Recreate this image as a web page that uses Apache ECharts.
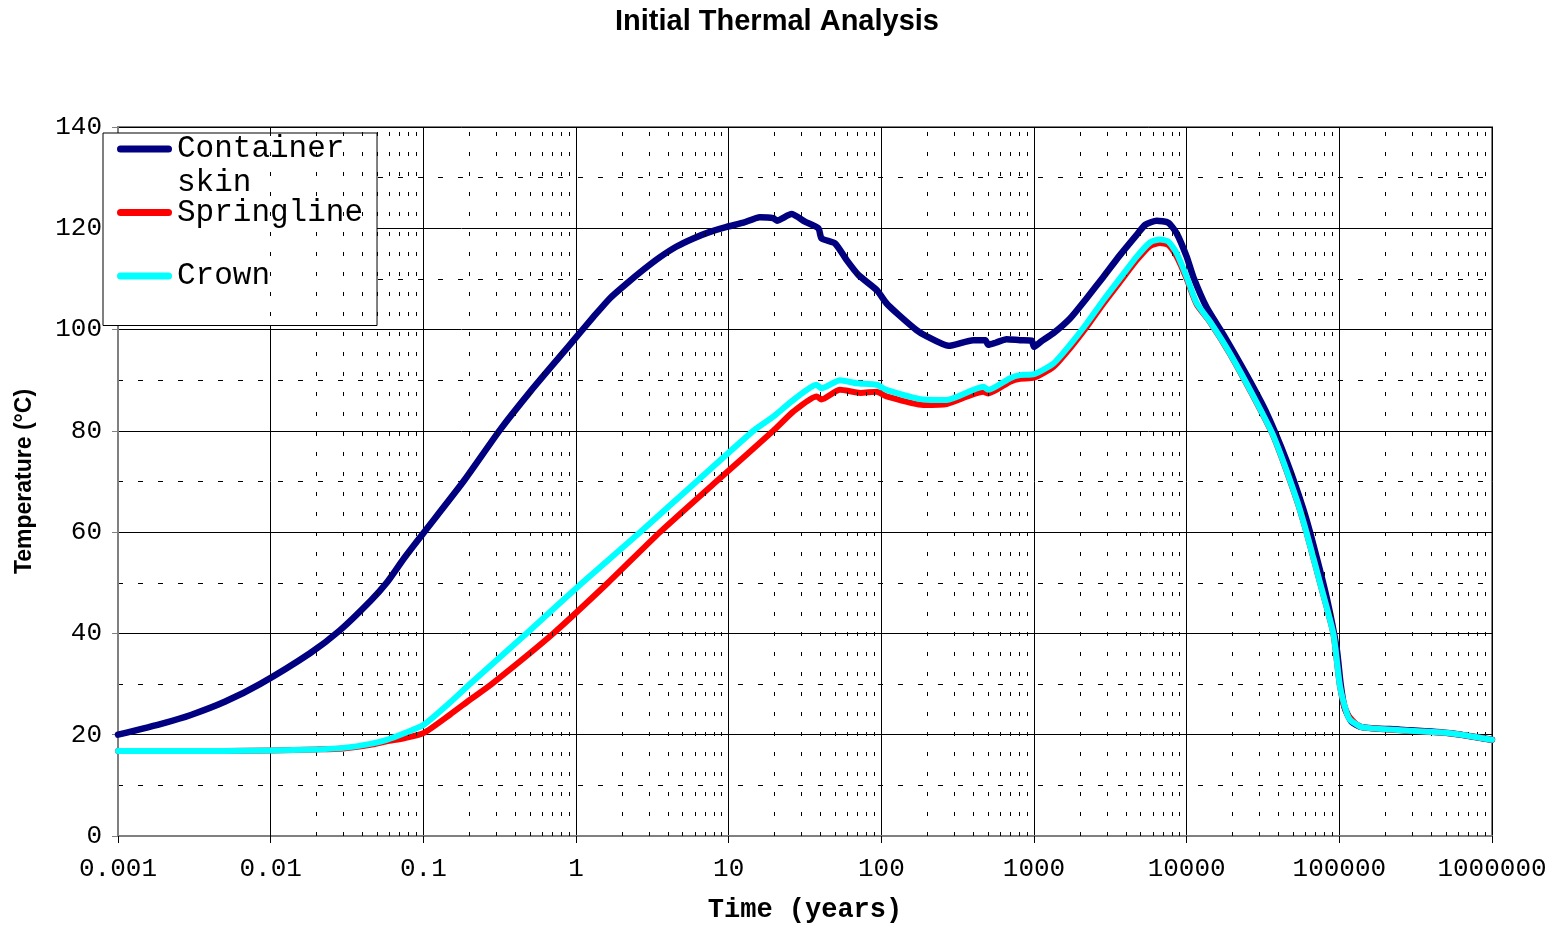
<!DOCTYPE html>
<html>
<head>
<meta charset="utf-8">
<script src="https://cdn.jsdelivr.net/npm/echarts@6/dist/echarts.min.js"></script>
<style>html,body{margin:0;padding:0;background:#fff;}#c{width:1554px;height:928px;}</style>
</head>
<body>
<div id="c"></div>
<script>
// ---- data (time in years, temperature in °C) ----
const titleText = 'Initial Thermal Analysis';
const xAxisName = 'Time (years)';
const yAxisName = 'Temperature (°C)';
const seriesNames = ['Container skin', 'Springline', 'Crown'];
const xTickLabels = ['0.001', '0.01', '0.1', '1', '10', '100', '1000', '10000', '100000', '1000000'];
const yTicks = [0, 20, 40, 60, 80, 100, 120, 140];

const containerSkin = [
  [0.001, 20.0], [0.002, 22.3], [0.003, 23.9], [0.005, 26.5], [0.0085, 30.0], [0.0181, 36.1],
  [0.0284, 40.6], [0.045, 46.4], [0.0575, 50.0], [0.075, 54.9], [0.1, 59.8], [0.183, 70.0],
  [0.318, 80.2], [0.5, 87.7], [0.785, 94.7], [1.01, 98.6], [1.3, 102.5], [1.67, 106.2],
  [2.15, 109.1], [2.76, 111.8], [3.55, 114.3], [4.56, 116.4], [5.87, 118.0], [7.55, 119.3],
  [9.7, 120.3], [12.5, 121.1], [16, 122.2], [19.6, 122.0],
  [20.7, 121.5], [25.8, 122.8], [31.6, 121.3], [38.7, 120.0], [40.6, 118.0], [49.8, 117.0],
  [59.3, 113.7], [70.7, 110.8], [93.3, 107.8], [108, 105.2], [130, 102.9], [170, 99.9],
  [200, 98.6], [275, 96.8], [400, 97.9], [480, 97.9], [502, 97.0], [560, 97.4], [662, 98.1],
  [809, 97.9], [966, 97.8], [1000, 96.6], [1107, 97.6], [1340, 99.3], [1722, 102.2],
  [2213, 106.2], [2845, 110.4], [3657, 114.7], [4706, 118.7], [5360, 120.7], [6360, 121.5],
  [7580, 121.1], [8600, 119.0], [10000, 114.4], [11050, 110.4],
  [13500, 104.4], [17400, 99.0], [24700, 91.0], [33400, 83.5], [45200, 74.0], [58100, 64.5],
  [67600, 57.5], [82700, 47.0], [96100, 37.0], [102000, 30.0], [108000, 25.5], [120000, 22.6],
  [140000, 21.5], [250000, 21.0], [530000, 20.3], [1000000, 19.0]
];

const springline = [
  [0.001, 16.8], [0.005, 16.8], [0.01, 16.9], [0.02, 17.1], [0.03, 17.3], [0.045, 18.0],
  [0.0575, 18.7], [0.075, 19.3], [0.1, 20.3], [0.15, 24.0], [0.202, 26.9], [0.28, 30.0],
  [0.71, 40.0], [1.62, 50.0], [3.55, 60.0], [8.3, 70.0], [19.6, 80.0], [26.5, 83.8],
  [37.7, 86.8], [40.5, 86.2], [53.6, 88.1], [73, 87.5], [93, 87.7], [108, 86.8], [188, 85.1],
  [268, 85.3], [466, 87.7], [502, 87.4], [697, 89.7], [809, 90.3], [1000, 90.5], [1340, 92.6],
  [1722, 96.3], [2213, 100.5], [2845, 105.1], [3657, 109.4], [4706, 113.7], [5754, 116.5],
  [6690, 117.1], [7580, 116.7], [8600, 114.4], [10000, 110.0], [11620, 105.0],
  [14200, 101.5], [19200, 95.2], [27400, 86.7], [37000, 78.9], [52600, 66.3],
  [61100, 59.8], [74700, 50.0], [91300, 40.0], [101000, 29.5], [112000, 24.2], [137000, 21.6],
  [250000, 20.9], [532000, 20.3], [1000000, 19.0]
];

const crown = [
  [0.001, 16.8], [0.005, 16.8], [0.01, 16.9], [0.02, 17.1], [0.03, 17.4], [0.045, 18.2],
  [0.0575, 19.0], [0.075, 20.3], [0.1, 21.9], [0.15, 26.4], [0.202, 30.0], [0.474, 40.0],
  [1.1, 50.0], [2.63, 60.0], [6.17, 70.0], [14.5, 80.0], [19.6, 82.8], [26.5, 86.1],
  [37.7, 89.1], [40.5, 88.4], [53.6, 90.0], [68.9, 89.4], [93.3, 89.1], [108, 88.1], [188, 86.2],
  [268, 86.1], [466, 88.7], [502, 88.1], [697, 90.4], [809, 91.0], [1000, 91.2], [1340, 93.3],
  [1722, 97.0], [2213, 101.2], [2845, 105.8], [3657, 110.1], [4706, 114.4], [5754, 117.2],
  [6690, 117.8], [7580, 117.4], [8600, 115.1], [10000, 110.4], [11620, 105.2],
  [14200, 101.6], [19200, 95.3], [27400, 86.8], [37000, 79.0], [52600, 66.4],
  [61100, 59.8], [74700, 50.0], [91300, 40.0], [101000, 29.5], [112000, 24.2], [118000, 22.9],
  [137000, 21.6], [159000, 21.3], [250000, 20.9], [532000, 20.3], [1000000, 19.0]
];

// minor vertical grid positions (2..9 x each decade)
const minorX = [];
for (let e = -3; e < 6; e++) for (let k = 2; k <= 9; k++) minorX.push(+(k * Math.pow(10, e)).toPrecision(3));

const mono = '"Liberation Mono", "DejaVu Sans Mono", monospace';
const sans = '"Liberation Sans", Arial, sans-serif';

const chart = echarts.init(document.getElementById('c'), null, {renderer: 'canvas'});
chart.setOption({
  animation: false,
  backgroundColor: '#fff',
  title: {
    text: titleText, left: 'center', top: 2,
    textStyle: {fontFamily: sans, fontWeight: 'bold', fontSize: 29, color: '#000'}
  },
  grid: {left: 118, right: 62, top: 127, bottom: 92, outerBoundsMode: 'none', containLabel: false,
         show: true, borderColor: '#808080', borderWidth: 2, backgroundColor: 'transparent'},
  legend: {
    orient: 'vertical', left: 103, top: 133,
    padding: [0, 14, 0, 14], itemGap: -2,
    backgroundColor: '#fff', borderColor: '#000', borderWidth: 1,
    itemWidth: 55, itemHeight: 7,
    icon: 'path://M3.5,0 L51.5,0 A3.5,3.5 0 0 1 51.5,7 L3.5,7 A3.5,3.5 0 0 1 3.5,0 Z',
    data: seriesNames,
    formatter: function (n) {
      return n === 'Container skin' ? '{a|Container}\n{b|skin}' : '{a|' + n + '}\n{b| }';
    },
    textStyle: {
      fontFamily: mono, fontSize: 31, color: '#000',
      rich: {
        a: {fontFamily: mono, fontSize: 31, color: '#000', lineHeight: 68, height: 32, verticalAlign: 'bottom'},
        b: {fontFamily: mono, fontSize: 31, color: '#000', lineHeight: 36}
      }
    }
  },
  xAxis: {
    type: 'log', logBase: 10, min: 0.001, max: 1000000,
    name: xAxisName, nameLocation: 'middle', nameGap: 61,
    nameTextStyle: {fontFamily: mono, fontWeight: 'bold', fontSize: 27, color: '#000'},
    axisLine: {show: true, onZero: false, lineStyle: {color: '#808080', width: 2}},
    axisTick: {show: true, length: 7, lineStyle: {color: '#000', width: 1}},
    axisLabel: {
      margin: 20, fontFamily: mono, fontSize: 26, color: '#000',
      formatter: function (v) { const i = Math.round(Math.log10(v)) + 3; return xTickLabels[i] !== undefined ? xTickLabels[i] : ''; }
    },
    splitLine: {show: true, lineStyle: {color: '#000', width: 1}}
  },
  yAxis: {
    type: 'value', min: 0, max: 140, interval: 20,
    name: yAxisName, nameLocation: 'middle', nameGap: 82, nameRotate: 90,
    nameTextStyle: {fontFamily: sans, fontWeight: 'bold', fontSize: 23, color: '#000'},
    axisLine: {show: true, lineStyle: {color: '#808080', width: 2}},
    axisTick: {show: true, length: 6, lineStyle: {color: '#808080', width: 1}},
    axisLabel: {margin: 16, fontFamily: mono, fontSize: 26, color: '#000',
      formatter: function (v) { return yTicks.indexOf(v) >= 0 ? String(v) : ''; }},
    splitLine: {show: true, lineStyle: {color: '#000', width: 1}},
    minorTick: {show: false, splitNumber: 2},
    minorSplitLine: {show: true, lineStyle: {color: '#000', width: 1, type: [5, 15]}}
  },
  series: [
    {
      name: '_minor', type: 'line', data: [], z: 1, silent: true,
      markLine: {
        silent: true, symbol: ['none', 'none'], label: {show: false},
        lineStyle: {color: '#000', width: 1, type: [4, 16]},
        emphasis: {disabled: true},
        data: minorX.map(v => ({xAxis: v}))
      }
    },
    {name: seriesNames[0], type: 'line', data: containerSkin, showSymbol: false, smooth: 0.2, z: 3,
     color: '#000080', lineStyle: {width: 6.5, color: '#000080', cap: 'round', join: 'round'}},
    {name: seriesNames[1], type: 'line', data: springline, showSymbol: false, smooth: 0.2, z: 4,
     color: '#ff0000', lineStyle: {width: 6, color: '#ff0000', cap: 'round', join: 'round'}},
    {name: seriesNames[2], type: 'line', data: crown, showSymbol: false, smooth: 0.2, z: 5,
     color: '#00ffff', lineStyle: {width: 6, color: '#00ffff', cap: 'round', join: 'round'}}
  ]
});
</script>
</body>
</html>
